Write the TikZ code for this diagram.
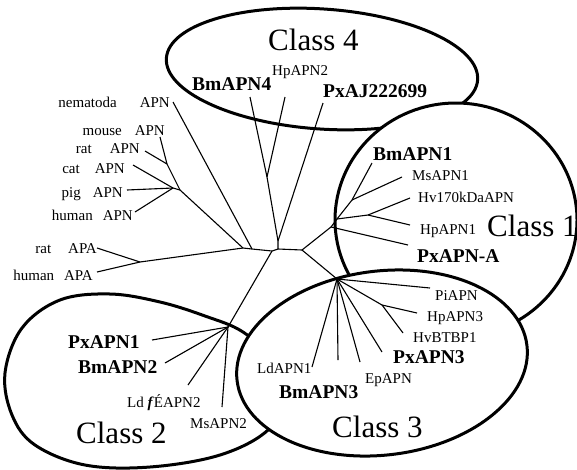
\documentclass[tikz,border=0pt]{standalone}
\usepackage{fontspec}
\setmainfont{Liberation Serif}
\begin{document}
\begin{tikzpicture}[x=1pt,y=-1pt,
  cls/.style={line width=3pt, fill=white},
  br/.style={line width=1.1pt},
  lab/.style={font=\fontsize{15}{15}\selectfont, inner sep=0pt, anchor=base west},
  llab/.style={font=\fontsize{15}{15}\selectfont, inner sep=0pt, anchor=base east},
  blab/.style={font=\fontsize{19.5}{19.5}\selectfont\bfseries, inner sep=0pt, anchor=base west},
  big/.style={font=\fontsize{31}{31}\selectfont, inner sep=0pt, anchor=base west}]
\useasboundingbox (0,0) rectangle (577,469);

% class outlines (later ones cover earlier ones)
\draw[cls, rotate around={-4:(322,69)}] (322,69) ellipse [x radius=156pt, y radius=60pt];
\draw[cls] (456,220) ellipse [x radius=121pt, y radius=117pt];
\draw[cls] plot[smooth cycle, tension=0.6] coordinates {(5,373) (22,328) (60,300) (110,294) (160,302) (205,316) (243,332) (275,362) (285,395) (268,430) (220,455) (150,467) (85,465) (35,445) (12,415)};
\draw[cls, rotate around={7:(382,363)}] (382,363) ellipse [x radius=146pt, y radius=92pt];

% tree coordinates
\coordinate (nemE) at (173,102);
\coordinate (mouE) at (160,137);
\coordinate (ratE) at (145,151);
\coordinate (catE) at (133,165);
\coordinate (pigE) at (127,190);
\coordinate (humE) at (135,212);
\coordinate (m2) at (167,164);
\coordinate (m1) at (173,188);
\coordinate (m0) at (180,190);
\coordinate (rAE) at (97,248);
\coordinate (hAE) at (97,272);
\coordinate (a1) at (140,262);
\coordinate (n1) at (243,248);
\coordinate (n2) at (252,249);
\coordinate (n3) at (272,251);
\coordinate (n4) at (278,249);
\coordinate (n5) at (302,250);
\coordinate (c2) at (228,327);
\coordinate (p1E) at (152,340);
\coordinate (b2E) at (165,363);
\coordinate (ldE) at (188,385);
\coordinate (ms2E) at (222,407);
\coordinate (k1) at (278,241);
\coordinate (k2) at (267,177);
\coordinate (bm4E) at (250,97);
\coordinate (hp2E) at (285,97);
\coordinate (pxajE) at (323,103);
\coordinate (c1a) at (331,227);
\coordinate (c1b) at (337,219);
\coordinate (c1c) at (352,200);
\coordinate (c1d) at (368,215);
\coordinate (bm1E) at (372,163);
\coordinate (ms1E) at (402,177);
\coordinate (hvE) at (410,198);
\coordinate (hp1E) at (410,225);
\coordinate (pxaE) at (408,245);
\coordinate (c3) at (337,279);
\coordinate (c3b) at (382,305);
\coordinate (piE) at (430,288);
\coordinate (hp3E) at (417,313);
\coordinate (hvbE) at (403,333);
\coordinate (px3E) at (382,352);
\coordinate (epE) at (360,362);
\coordinate (bm3E) at (338,360);
\coordinate (ld1E) at (312,367);

% branches
\draw[br] (nemE) -- (n2);
\draw[br] (mouE) -- (m2) -- (m0);
\draw[br] (ratE) -- (m2);
\draw[br] (catE) -- (m1);
\draw[br] (pigE) -- (m1);
\draw[br] (humE) -- (m1);
\draw[br] (m1) -- (m0) -- (n1);
\draw[br] (rAE) -- (a1);
\draw[br] (hAE) -- (a1);
\draw[br] (a1) -- (n1) -- (n2) -- (n3) -- (n4) -- (n5);
\draw[br] (n3) -- (c2);
\draw[br] (c2) -- (p1E);
\draw[br] (c2) -- (b2E);
\draw[br] (c2) -- (ldE);
\draw[br] (c2) -- (ms2E);
\draw[br] (n4) -- (k1) -- (k2) -- (bm4E);
\draw[br] (k2) -- (hp2E);
\draw[br] (k1) -- (pxajE);
\draw[br] (n5) -- (c1a) -- (c1b) -- (c1c) -- (bm1E);
\draw[br] (c1c) -- (ms1E);
\draw[br] (c1b) -- (c1d) -- (hvE);
\draw[br] (c1d) -- (hp1E);
\draw[br] (c1a) -- (pxaE);
\draw[br] (n5) -- (c3) -- (piE);
\draw[br] (c3) -- (c3b) -- (hp3E);
\draw[br] (c3b) -- (hvbE);
\draw[br] (c3) -- (px3E);
\draw[br] (c3) -- (epE);
\draw[br] (c3) -- (bm3E);
\draw[br] (c3) -- (ld1E);

% left labels
\node[llab] (lnem) at (170,107) {nematoda\hspace{23pt}APN};
\node[llab] (lmou) at (165,135) {mouse\hspace{13pt}APN};
\node[llab] (lrat) at (140,153) {rat\hspace{18pt}APN};
\node[llab] (lcat) at (125,173) {cat\hspace{15pt}APN};
\node[llab] (lpig) at (123,197) {pig\hspace{12pt}APN};
\node[llab] (lhum) at (133,220) {human\hspace{10pt}APN};
\node[llab] (lrA) at (97,253) {rat\hspace{17pt}APA};
\node[llab] (lhA) at (93,280) {human\hspace{10pt}APA};

% class 4
\node[big] (t4) at (268,50) {Class 4};
\node[blab] (lbm4) at (192,90) {BmAPN4};
\node[lab] (lhp2) at (272,75) {HpAPN2};
\node[blab] (lpxaj) at (323,97) {PxAJ222699};

% class 1
\node[blab] (lbm1) at (373,160) {BmAPN1};
\node[lab] (lms1) at (412,180) {MsAPN1};
\node[lab] (lhv) at (418,202) {Hv170kDaAPN};
\node[lab] (lhp1) at (420,234) {HpAPN1};
\node[big] (t1) at (487,236) {Class 1};
\node[blab] (lpxa) at (417,262) {PxAPN-A};

% class 3
\node[lab] (lpi) at (435,300) {PiAPN};
\node[lab] (lhp3) at (427,321) {HpAPN3};
\node[lab] (lhvb) at (413,342) {HvBTBP1};
\node[blab] (lpx3) at (393,363) {PxAPN3};
\node[lab] (lep) at (365,383) {EpAPN};
\node[blab] (lbm3) at (279,398) {BmAPN3};
\node[lab] (lld1) at (257,373) {LdAPN1};
\node[big] (t3) at (332,437) {Class 3};

% class 2
\node[blab] (lp1) at (68,348) {PxAPN1};
\node[blab] (lb2) at (78,373) {BmAPN2};
\node[lab] (lld2) at (127,407) {Ld~\textbf{\textit{f}}ÉAPN2};
\node[lab] (lms2) at (190,428) {MsAPN2};
\node[big] (t2) at (76,443) {Class 2};
\end{tikzpicture}
\end{document}
